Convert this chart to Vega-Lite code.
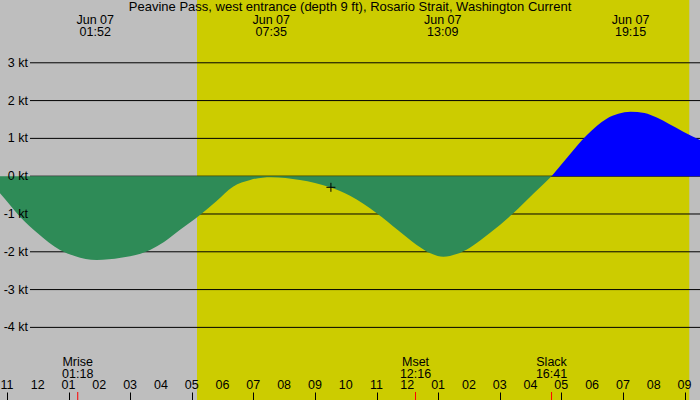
{
  "$schema": "https://vega.github.io/schema/vega-lite/v6.json",
  "width": 700,
  "height": 400,
  "padding": 0,
  "autosize": {"type": "none"},
  "background": "#bebebe",
  "config": {
    "view": {"stroke": null},
    "text": {"font": "Liberation Sans", "fontSize": 12.5, "color": "black"}
  },
  "datasets": {
    "curve": [
      {"h": -1.75, "v": 0, "dir": "ebb"},
      {"h": -1.224, "v": -0.452, "dir": "ebb"},
      {"h": -0.575, "v": -1.07, "dir": "ebb"},
      {"h": 0, "v": -1.51, "dir": "ebb"},
      {"h": 0.724, "v": -1.95, "dir": "ebb"},
      {"h": 1.2, "v": -2.11, "dir": "ebb"},
      {"h": 1.916, "v": -2.217, "dir": "ebb"},
      {"h": 2.7, "v": -2.16, "dir": "ebb"},
      {"h": 3.646, "v": -1.952, "dir": "ebb"},
      {"h": 4.1, "v": -1.74, "dir": "ebb"},
      {"h": 4.6, "v": -1.43, "dir": "ebb"},
      {"h": 5.269, "v": -1.026, "dir": "ebb"},
      {"h": 5.8, "v": -0.66, "dir": "ebb"},
      {"h": 6.341, "v": -0.278, "dir": "ebb"},
      {"h": 6.9, "v": -0.1, "dir": "ebb"},
      {"h": 7.583, "v": -0.025, "dir": "ebb"},
      {"h": 8.516, "v": -0.1, "dir": "ebb"},
      {"h": 9.49, "v": -0.294, "dir": "ebb"},
      {"h": 10.14, "v": -0.52, "dir": "ebb"},
      {"h": 11.006, "v": -0.98, "dir": "ebb"},
      {"h": 11.7, "v": -1.43, "dir": "ebb"},
      {"h": 12.305, "v": -1.82, "dir": "ebb"},
      {"h": 12.75, "v": -2.04, "dir": "ebb"},
      {"h": 13.169, "v": -2.13, "dir": "ebb"},
      {"h": 13.6, "v": -2.06, "dir": "ebb"},
      {"h": 14.03, "v": -1.89, "dir": "ebb"},
      {"h": 14.7, "v": -1.49, "dir": "ebb"},
      {"h": 15.44, "v": -0.98, "dir": "ebb"},
      {"h": 16.1, "v": -0.46, "dir": "ebb"},
      {"h": 16.683, "v": 0, "dir": "ebb"},
      {"h": 16.683, "v": 0, "dir": "flood"},
      {"h": 17.2, "v": 0.5, "dir": "flood"},
      {"h": 17.825, "v": 1.08, "dir": "flood"},
      {"h": 18.15, "v": 1.33, "dir": "flood"},
      {"h": 18.474, "v": 1.52, "dir": "flood"},
      {"h": 18.85, "v": 1.65, "dir": "flood"},
      {"h": 19.25, "v": 1.706, "dir": "flood"},
      {"h": 19.7, "v": 1.67, "dir": "flood"},
      {"h": 20.1, "v": 1.55, "dir": "flood"},
      {"h": 20.5, "v": 1.38, "dir": "flood"},
      {"h": 20.96, "v": 1.177, "dir": "flood"},
      {"h": 21.503, "v": 0.958, "dir": "flood"},
      {"h": 22.0, "v": 0.76, "dir": "flood"}
    ],
    "daylight": [{"start": 5.172, "end": 21.155}],
    "grid": [{"kt": 3}, {"kt": 2}, {"kt": 1}, {"kt": 0}, {"kt": -1}, {"kt": -2}, {"kt": -3}, {"kt": -4}],
    "ylabels": [
      {"kt": 3, "label": "3 kt"}, {"kt": 2, "label": "2 kt"}, {"kt": 1, "label": "1 kt"},
      {"kt": 0, "label": "0 kt"}, {"kt": -1, "label": "-1 kt"}, {"kt": -2, "label": "-2 kt"},
      {"kt": -3, "label": "-3 kt"}, {"kt": -4, "label": "-4 kt"}
    ],
    "hours": [
      {"h": -1, "label": "11"}, {"h": 0, "label": "12"}, {"h": 1, "label": "01"}, {"h": 2, "label": "02"},
      {"h": 3, "label": "03"}, {"h": 4, "label": "04"}, {"h": 5, "label": "05"}, {"h": 6, "label": "06"},
      {"h": 7, "label": "07"}, {"h": 8, "label": "08"}, {"h": 9, "label": "09"}, {"h": 10, "label": "10"},
      {"h": 11, "label": "11"}, {"h": 12, "label": "12"}, {"h": 13, "label": "01"}, {"h": 14, "label": "02"},
      {"h": 15, "label": "03"}, {"h": 16, "label": "04"}, {"h": 17, "label": "05"}, {"h": 18, "label": "06"},
      {"h": 19, "label": "07"}, {"h": 20, "label": "08"}, {"h": 21, "label": "09"}
    ],
    "events": [
      {"h": 1.867, "label": ["Jun 07", "01:52"]},
      {"h": 7.583, "label": ["Jun 07", "07:35"]},
      {"h": 13.15, "label": ["Jun 07", "13:09"]},
      {"h": 19.25, "label": ["Jun 07", "19:15"]}
    ],
    "marks": [
      {"h": 1.3, "label": ["Mrise", "01:18"]},
      {"h": 12.267, "label": ["Mset", "12:16"]},
      {"h": 16.683, "label": ["Slack", "16:41"]}
    ],
    "cross": [{"h": 9.52, "v": -0.294}],
    "title": [{"h": 10.14, "label": "Peavine Pass, west entrance (depth 9 ft), Rosario Strait, Washington Current"}]
  },
  "layer": [
    {
      "data": {"name": "daylight"},
      "mark": {"type": "rect", "color": "#cccc00"},
      "encoding": {
        "x": {"field": "start", "type": "quantitative", "title": null,
              "scale": {"domain": [-1.224, 21.503], "nice": false, "zero": false},
              "axis": {
                "values": [-1,0,1,2,3,4,5,6,7,8,9,10,11,12,13,14,15,16,17,18,19,20,21],
                "labels": false,
                "tickWidth": {"condition": {"test": "datum.value == 0", "value": 3}, "value": 1},
                "domain": false, "grid": false, "tickSize": -8, "tickColor": "black",
                "zindex": 2
              }},
        "x2": {"field": "end"}
      }
    },
    {
      "data": {"name": "grid"},
      "mark": {"type": "rule", "color": "black", "strokeWidth": 1},
      "encoding": {
        "y": {"field": "kt", "type": "quantitative", "axis": null,
              "scale": {"domain": [-5.921, 4.661], "nice": false, "zero": false}},
        "x": {"datum": -0.25, "type": "quantitative", "title": null},
        "x2": {"datum": 21.503}
      }
    },
    {
      "data": {"name": "curve"},
      "mark": {"type": "area", "interpolate": "monotone", "clip": true},
      "encoding": {
        "x": {"field": "h", "type": "quantitative", "title": null},
        "y": {"field": "v", "type": "quantitative", "axis": null, "stack": null},
        "y2": {"datum": 0},
        "color": {"field": "dir", "type": "nominal", "legend": null,
                  "scale": {"domain": ["ebb", "flood"], "range": ["#2e8b57", "#0000ff"]}}
      }
    },
    {
      "data": {"name": "cross"},
      "mark": {"type": "point", "shape": "M -1 0 L 1 0 M 0 -1 L 0 1", "filled": false,
               "stroke": "black", "strokeWidth": 1, "size": 81, "opacity": 1},
      "encoding": {
        "x": {"field": "h", "type": "quantitative", "title": null},
        "y": {"field": "v", "type": "quantitative", "axis": null}
      }
    },
    {
      "data": {"name": "ylabels"},
      "mark": {"type": "text", "align": "right", "baseline": "middle"},
      "encoding": {
        "x": {"datum": -0.315, "type": "quantitative", "title": null},
        "y": {"field": "kt", "type": "quantitative", "axis": null},
        "text": {"field": "label"}
      }
    },
    {
      "data": {"name": "hours"},
      "mark": {"type": "text", "align": "center", "baseline": "alphabetic"},
      "encoding": {
        "x": {"field": "h", "type": "quantitative", "title": null},
        "y": {"datum": -5.643, "type": "quantitative", "axis": null},
        "text": {"field": "label"}
      }
    },
    {
      "data": {"name": "events"},
      "mark": {"type": "text", "align": "center", "baseline": "alphabetic", "lineHeight": 11.5},
      "encoding": {
        "x": {"field": "h", "type": "quantitative", "title": null},
        "y": {"datum": 4.013, "type": "quantitative", "axis": null},
        "text": {"field": "label"}
      }
    },
    {
      "data": {"name": "title"},
      "mark": {"type": "text", "align": "center", "baseline": "alphabetic", "fontSize": 13},
      "encoding": {
        "x": {"field": "h", "type": "quantitative", "title": null},
        "y": {"datum": 4.357, "type": "quantitative", "axis": null},
        "text": {"field": "label"}
      }
    },
    {
      "data": {"name": "marks"},
      "mark": {"type": "text", "align": "center", "baseline": "alphabetic", "lineHeight": 12},
      "encoding": {
        "x": {"field": "h", "type": "quantitative", "title": null},
        "y": {"datum": -5.034, "type": "quantitative", "axis": null},
        "text": {"field": "label"}
      }
    },
    {
      "data": {"name": "marks"},
      "mark": {"type": "rule", "color": "red", "strokeWidth": 1},
      "encoding": {
        "x": {"field": "h", "type": "quantitative", "title": null},
        "y": {"datum": -5.709, "type": "quantitative", "axis": null},
        "y2": {"datum": -5.921}
      }
    }
  ]
}
